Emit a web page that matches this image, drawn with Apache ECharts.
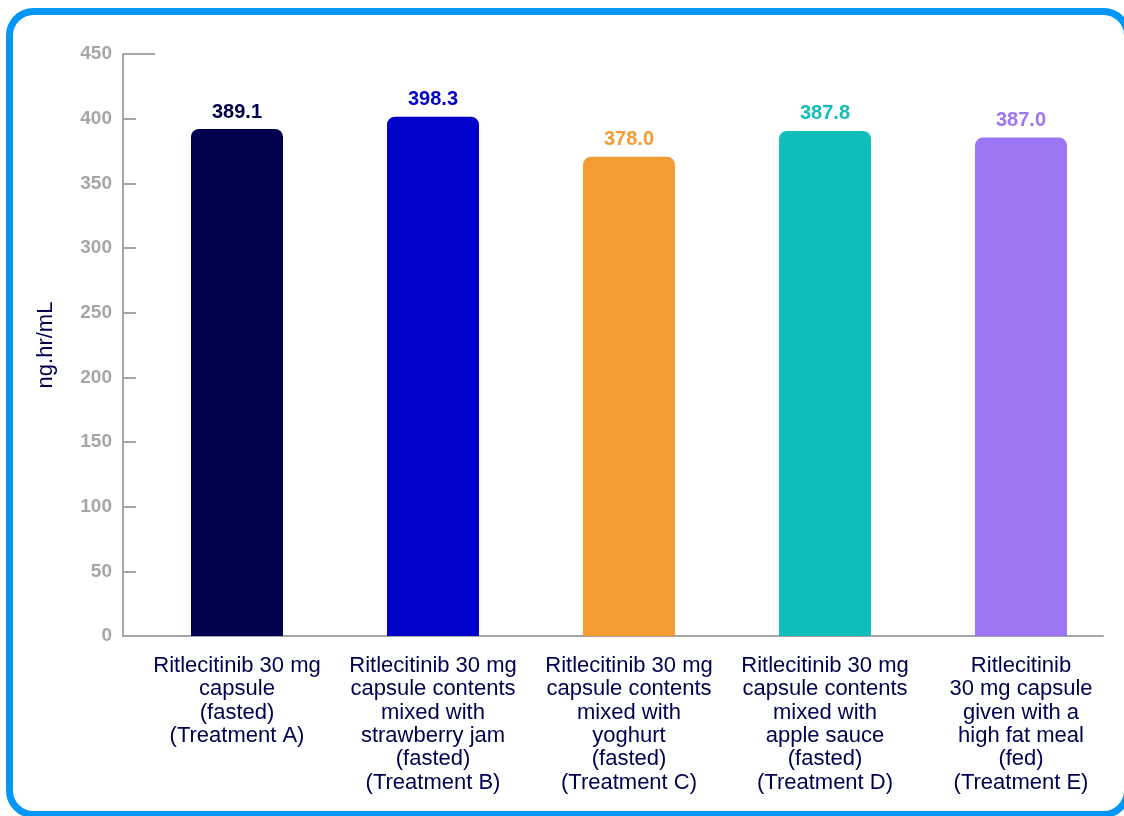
<!DOCTYPE html>
<html>
<head>
<meta charset="utf-8">
<script src="https://cdn.jsdelivr.net/npm/echarts@6/dist/echarts.min.js"></script>
<style>
html, body { margin: 0; padding: 0; background: #fff; }
#charts { width: 1124px; height: 816px; }
</style>
</head>
<body>
<div id="charts"></div>
<script>
// categories (x axis)
var categories = [
    'Ritlecitinib 30 mg\ncapsule\n(fasted)\n(Treatment A)',
    'Ritlecitinib 30 mg\ncapsule contents\nmixed with\nstrawberry jam\n(fasted)\n(Treatment B)',
    'Ritlecitinib 30 mg\ncapsule contents\nmixed with\nyoghurt\n(fasted)\n(Treatment C)',
    'Ritlecitinib 30 mg\ncapsule contents\nmixed with\napple sauce\n(fasted)\n(Treatment D)',
    'Ritlecitinib\n30 mg capsule\ngiven with a\nhigh fat meal\n(fed)\n(Treatment E)'
];
// bar heights as drawn in the picture
var barValues = [392, 401.5, 370.5, 390.5, 385.5];
// value labels printed above the bars
var barLabels = ['389.1', '398.3', '378.0', '387.8', '387.0'];
var barColors = ['#00004f', '#0000c8', '#f39c33', '#0fbdba', '#9d76f6'];
var yMin = 0, yMax = 450, yStep = 50;

var FONT = 'Liberation Sans, Arial';
var chart = echarts.init(document.getElementById('charts'));

var seriesData = [];
for (var i = 0; i < barValues.length; i++) {
    seriesData.push({
        value: barValues[i],
        itemStyle: { color: barColors[i] },
        label: { color: barColors[i] }
    });
}

var option = {
    animation: false,
    grid: [
        // axes frame
        { left: 123, right: 21, top: 54, bottom: 180 },
        // bars sit a little to the right of the axis frame
        { left: 139, right: 5, top: 54, bottom: 180 }
    ],
    xAxis: [
        {
            type: 'category',
            gridIndex: 0,
            data: categories,
            axisLine: { lineStyle: { color: '#a6a6a6', width: 2 } },
            axisTick: { show: false },
            axisLabel: { show: false }
        },
        {
            type: 'category',
            gridIndex: 1,
            data: categories,
            axisLine: { show: false },
            axisTick: { show: false },
            axisLabel: {
                color: '#00004f',
                fontFamily: FONT,
                fontSize: 22,
                lineHeight: 23.4,
                margin: 18,
                interval: 0
            }
        }
    ],
    yAxis: [
        {
            type: 'value',
            gridIndex: 0,
            min: yMin,
            max: yMax,
            interval: yStep,
            name: 'ng.hr/mL',
            nameLocation: 'middle',
            nameRotate: 90,
            nameGap: 66,
            nameTextStyle: { color: '#00004f', fontFamily: FONT, fontSize: 22 },
            axisLine: { show: true, lineStyle: { color: '#a6a6a6', width: 2 } },
            axisTick: { show: true, inside: true, length: 13, lineStyle: { color: '#a6a6a6', width: 2 } },
            splitLine: { show: false },
            axisLabel: {
                color: '#a6a6a6',
                fontFamily: FONT,
                fontWeight: 'bold',
                fontSize: 19,
                margin: 11
            }
        },
        {
            type: 'value',
            gridIndex: 1,
            min: yMin,
            max: yMax,
            interval: yStep,
            show: false
        }
    ],
    series: [{
        type: 'bar',
        xAxisIndex: 1,
        yAxisIndex: 1,
        data: seriesData,
        barWidth: 92,
        itemStyle: { borderRadius: [8, 8, 0, 0] },
        label: {
            show: true,
            position: 'top',
            distance: 7,
            fontFamily: FONT,
            fontWeight: 'bold',
            fontSize: 20,
            formatter: function (p) { return barLabels[p.dataIndex]; }
        }
    }]
};
chart.setOption(option);

// outer rounded frame + longer top tick at 450
var topPt = chart.convertToPixel({ yAxisIndex: 0 }, yMax);
chart.setOption({
    graphic: [
        {
            type: 'rect',
            silent: true,
            shape: { x: 9.5, y: 11.5, width: 1118, height: 803, r: 24 },
            style: { fill: 'none', stroke: '#0096fa', lineWidth: 7 }
        },
        {
            type: 'line',
            silent: true,
            shape: { x1: 123, y1: topPt, x2: 155, y2: topPt },
            style: { stroke: '#a6a6a6', lineWidth: 2 }
        }
    ]
});
</script>
</body>
</html>
